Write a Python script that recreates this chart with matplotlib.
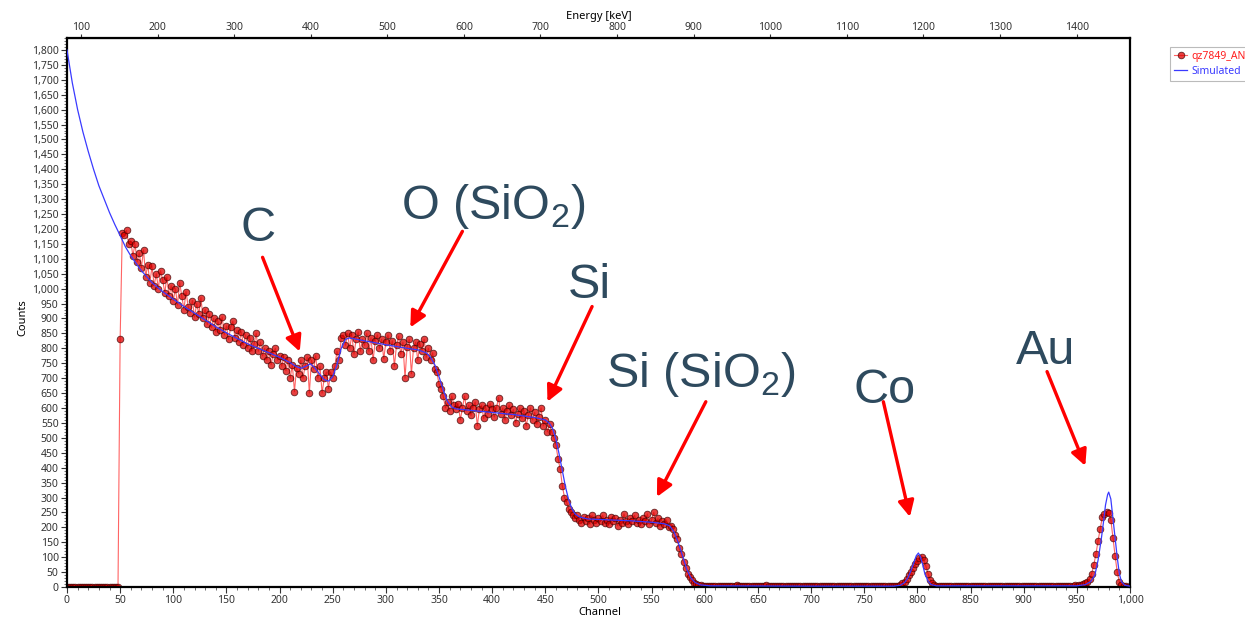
import numpy as np
import matplotlib
matplotlib.use("Agg")
import matplotlib.pyplot as plt
from matplotlib.ticker import MultipleLocator, FuncFormatter

plt.rcParams["font.family"] = ["Noto Sans", "DejaVu Sans"]
plt.rcParams["mathtext.fontset"] = "custom"
plt.rcParams["mathtext.rm"] = "Liberation Sans"

# measured spectrum, one value every 2 channels (ch 0, 2, ..., 998)
channel_step = 2
measured = [
    0, 0, 0, 0, 0, 0, 0, 0, 0, 0,
    0, 0, 0, 0, 0, 0, 0, 0, 0, 0,
    0, 0, 0, 0, 0, 830, 1185, 1180, 1195, 1150,
    1160, 1110, 1150, 1090, 1120, 1070, 1130, 1040, 1080, 1020,
    1075, 1010, 1050, 1000, 1060, 1030, 985, 1040, 975, 1010,
    960, 1000, 945, 1020, 975, 930, 990, 940, 920, 960,
    905, 950, 915, 970, 900, 930, 880, 915, 870, 900,
    855, 890, 860, 905, 845, 875, 830, 870, 890, 835,
    860, 820, 855, 810, 845, 800, 835, 790, 815, 850,
    790, 820, 775, 800, 760, 790, 745, 780, 800, 760,
    775, 740, 770, 725, 760, 700, 745, 655, 735, 715,
    760, 700, 740, 770, 650, 760, 730, 775, 700, 740,
    650, 700, 720, 665, 720, 700, 740, 790, 760, 835,
    845, 810, 850, 800, 845, 780, 830, 855, 790, 830,
    810, 850, 790, 835, 760, 825, 845, 800, 830, 765,
    820, 845, 790, 825, 740, 810, 840, 780, 820, 700,
    805, 830, 715, 800, 820, 760, 815, 790, 830, 770,
    800, 760, 785, 730, 720, 680, 665, 640, 600, 620,
    590, 640, 610, 595, 615, 560, 600, 640, 590, 610,
    575, 600, 620, 540, 595, 610, 565, 600, 580, 615,
    595, 570, 600, 635, 580, 600, 560, 590, 610, 575,
    595, 550, 580, 600, 565, 590, 540, 575, 600, 560,
    585, 545, 570, 600, 540, 560, 520, 545, 520, 500,
    475, 430, 395, 340, 300, 285, 260, 250, 240, 232,
    240, 225, 215, 235, 220, 230, 210, 240, 225, 215,
    230, 220, 240, 215, 225, 210, 235, 220, 230, 205,
    225, 215, 245, 220, 210, 230, 220, 240, 215, 225,
    210, 230, 220, 245, 210, 225, 250, 215, 230, 205,
    220, 210, 225, 200, 205, 195, 175, 160, 130, 110,
    85, 65, 45, 32, 22, 15, 10, 8, 6, 5,
    4, 3, 5, 2, 4, 3, 2, 4, 3, 2,
    3, 2, 4, 2, 3, 8, 3, 2, 4, 2,
    3, 2, 3, 4, 2, 3, 5, 2, 3, 6,
    3, 2, 4, 3, 2, 3, 2, 4, 3, 2,
    3, 5, 2, 3, 2, 4, 3, 2, 3, 2,
    4, 3, 2, 3, 5, 2, 3, 4, 2, 3,
    2, 3, 2, 4, 3, 2, 3, 2, 4, 3,
    2, 3, 4, 2, 3, 2, 5, 3, 2, 3,
    3, 2, 3, 2, 4, 3, 2, 3, 5, 4,
    3, 5, 8, 12, 18, 28, 40, 52, 65, 78,
    88, 96, 100, 90, 70, 45, 25, 12, 6, 4,
    3, 2, 4, 3, 2, 3, 2, 3, 2, 4,
    3, 2, 3, 4, 2, 3, 5, 3, 2, 3,
    2, 3, 2, 4, 3, 2, 3, 2, 3, 2,
    3, 2, 4, 3, 2, 3, 2, 3, 4, 2,
    3, 2, 3, 2, 4, 3, 2, 3, 2, 3,
    2, 3, 4, 2, 3, 2, 3, 5, 3, 4,
    3, 4, 5, 4, 6, 5, 7, 8, 10, 14,
    18, 28, 45, 75, 110, 155, 195, 235, 245, 250,
    248, 225, 165, 105, 50, 18, 7, 3, 2, 1,
]

# simulated spectrum (channel, counts)
sim_channel = [0, 5, 10, 15, 20, 25, 30, 35, 40, 45, 50, 55, 60, 70, 80, 90,
               100, 110, 120, 130, 140, 150, 160, 170, 180, 190, 200, 210,
               215, 220, 225, 229, 233, 238, 242, 246, 250, 254, 258, 262,
               266, 280, 300, 320, 330, 338, 342, 346, 350, 354, 358, 362,
               366, 380, 400, 420, 440, 450, 454, 457, 460, 463, 466, 469,
               472, 475, 478, 482, 490, 510, 530, 550, 562, 567, 571, 575,
               579, 583, 587, 591, 596, 605, 700, 778, 784, 788, 791, 794,
               797, 799, 801, 803, 805, 807, 810, 813, 818, 950, 958, 963,
               967, 970, 973, 975, 977, 979, 980, 982, 984, 986, 988, 990,
               992, 995, 1000]
sim_counts = [1800, 1690, 1600, 1525, 1460, 1400, 1345, 1300, 1255, 1215,
              1178, 1140, 1110, 1060, 1020, 990, 965, 940, 918, 895, 872,
              852, 833, 815, 800, 785, 770, 752, 740, 733, 740, 748, 735,
              712, 695, 690, 705, 745, 800, 830, 835, 825, 812, 800, 795,
              785, 770, 745, 705, 660, 622, 603, 597, 592, 585, 578, 568,
              560, 548, 530, 495, 445, 390, 335, 292, 262, 245, 235, 228,
              225, 222, 217, 212, 205, 185, 150, 105, 60, 30, 15, 7, 4, 3,
              3, 6, 15, 30, 55, 85, 105, 114, 100, 75, 45, 20, 8, 4, 4, 8,
              18, 40, 90, 160, 215, 275, 310, 318, 295, 230, 165, 100, 45,
              18, 6, 3]

energy_ticks = list(range(100, 1500, 100))

# peak labels: text, text centre, arrow tail, arrow head (channel, counts)
labels = [
    ("C", (180, 1200), (184, 1105), (219, 789)),
    ("O (SiO$_2$)", (401, 1275), (372, 1192), (323, 870)),
    ("Si", (491, 1010), (494, 940), (452, 621)),
    ("Si (SiO$_2$)", (596, 712), (601, 621), (555, 302)),
    ("Co", (769, 660), (768, 621), (793, 235)),
    ("Au", (921, 790), (922, 722), (958, 406)),
]

channels = np.arange(len(measured)) * channel_step

fig = plt.figure(figsize=(12.45, 6.2), dpi=100)
ax = fig.add_axes([0.0538, 0.0532, 0.8538, 0.8855])

ax.plot(channels, measured, color="#FF3030", lw=0.8, alpha=0.75,
        marker="o", markersize=4.8, markerfacecolor="#E00000",
        markeredgecolor="#3A0000", markeredgewidth=0.6,
        label="qz7849_ANR.txt", zorder=2)
ax.plot(sim_channel, sim_counts, color="#3A3AFF", lw=0.9,
        label="Simulated", zorder=3)

for txt, pos, tail, head in labels:
    ax.text(pos[0], pos[1], txt, fontsize=35, color="#2E4A5E",
            family="Liberation Sans", ha="center", va="center", zorder=5)
    ax.annotate("", xy=head, xytext=tail,
                arrowprops=dict(arrowstyle="-|>", color="#FF0000", lw=2.4,
                                mutation_scale=24, shrinkA=0, shrinkB=0),
                zorder=5)

ax.set_xlim(0, 1000)
ax.set_ylim(0, 1840)
ax.xaxis.set_major_locator(MultipleLocator(50))
ax.xaxis.set_minor_locator(MultipleLocator(10))
ax.yaxis.set_major_locator(MultipleLocator(50))
ax.yaxis.set_minor_locator(MultipleLocator(10))
fmt = FuncFormatter(lambda v, p: f"{v:,.0f}")
ax.xaxis.set_major_formatter(fmt)
ax.yaxis.set_major_formatter(fmt)
ax.tick_params(which="major", length=4, width=0.8, labelsize=7.5,
               colors="#333333", pad=2)
ax.tick_params(which="minor", length=2, width=0.6, colors="#555555")
for sp in ax.spines.values():
    sp.set_linewidth(1.6)
    sp.set_color("black")

ax.set_xlabel("Channel", fontsize=8, fontweight="bold")
ax.xaxis.set_label_coords(0.5014, -0.036)
ax.set_ylabel("Counts", fontsize=8, fontweight="bold")
ax.yaxis.set_label_coords(-0.036, 0.49)

e0, de = 81.7, 1.388
top = ax.secondary_xaxis("top", functions=(lambda c: e0 + de * c,
                                           lambda e: (e - e0) / de))
top.set_xticks(energy_ticks)
top.tick_params(length=3, width=0.8, labelsize=7.5, colors="#333333", pad=0.5)
top.set_xlabel("Energy [keV]", fontsize=8, fontweight="bold", labelpad=2)

leg = ax.legend(loc="upper left", bbox_to_anchor=(1165 / 1245, 1 - 42 / 620),
                bbox_transform=fig.transFigure, fontsize=7.5, frameon=True,
                fancybox=False, edgecolor="#AAAAAA", handlelength=1.3,
                borderpad=0.35, labelspacing=0.4, handletextpad=0.35)
leg.get_frame().set_linewidth(0.8)
leg.get_texts()[0].set_color("#FF2020")
leg.get_texts()[1].set_color("#3A3AFF")

fig.savefig("out.png", dpi=100, facecolor="white")
